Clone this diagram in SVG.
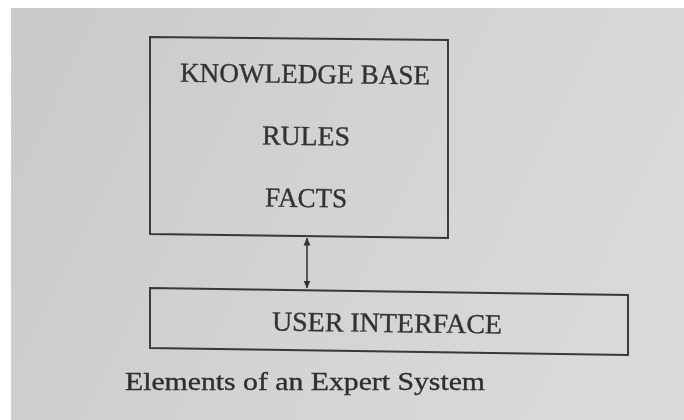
<svg xmlns="http://www.w3.org/2000/svg" width="684" height="420" viewBox="0 0 684 420">
  <defs>
    <linearGradient id="paper" x1="0" y1="0" x2="1" y2="0.3">
      <stop offset="0" stop-color="#c9c9c8"/>
      <stop offset="0.5" stop-color="#d2d2d0"/>
      <stop offset="1" stop-color="#d9d9d7"/>
    </linearGradient>
    <filter id="soft" x="-5%" y="-5%" width="110%" height="110%">
      <feGaussianBlur stdDeviation="0.45"/>
    </filter>
    <marker id="head" viewBox="0 0 8 10" refX="7.5" refY="5" markerWidth="8" markerHeight="10" markerUnits="userSpaceOnUse" orient="auto-start-reverse">
      <path d="M0,1.5 L8,5 L0,8.5 Z" fill="#333"/>
    </marker>
    <style>
      .box { fill: none; stroke: #383838; stroke-width: 1.9; stroke-linejoin: miter; }
      .lbl { font-family: "Liberation Serif", "DejaVu Serif", serif; font-size: 27.5px; fill: #333; stroke: #333; stroke-width: 0.35; }
      .cap { font-family: "Liberation Serif", "DejaVu Serif", serif; font-size: 26px; fill: #2e2e2e; stroke: #2e2e2e; stroke-width: 0.35; }
      .link { stroke: #333; stroke-width: 1.6; fill: none; }
    </style>
  </defs>

  <!-- page -->
  <rect x="0" y="0" width="684" height="420" fill="#ffffff"/>
  <rect x="11" y="8" width="673" height="412" fill="url(#paper)"/>

  <g filter="url(#soft)">
    <g id="knowledge-base">
      <polygon class="box" points="150,37 448,40 448,238 150,234"/>
      <text class="lbl" x="180" y="83" textLength="250" lengthAdjust="spacingAndGlyphs" transform="rotate(0.6 305 75)">KNOWLEDGE BASE</text>
      <text class="lbl" x="262" y="145" textLength="88" lengthAdjust="spacingAndGlyphs" transform="rotate(0.6 305 137)">RULES</text>
      <text class="lbl" x="265" y="207" textLength="82" lengthAdjust="spacingAndGlyphs" transform="rotate(0.6 305 199)">FACTS</text>
    </g>

    <g id="user-interface">
      <polygon class="box" points="150,288 628,295 628,355 150,348"/>
      <text class="lbl" x="272" y="332" textLength="230" lengthAdjust="spacingAndGlyphs" transform="rotate(0.8 387 325)">USER INTERFACE</text>
    </g>

    <g id="connectors">
      <line class="link" x1="307" y1="238" x2="307" y2="288" marker-start="url(#head)" marker-end="url(#head)"/>
    </g>

    <text class="cap" x="125" y="390" textLength="360" lengthAdjust="spacingAndGlyphs">Elements of an Expert System</text>
  </g>
</svg>
